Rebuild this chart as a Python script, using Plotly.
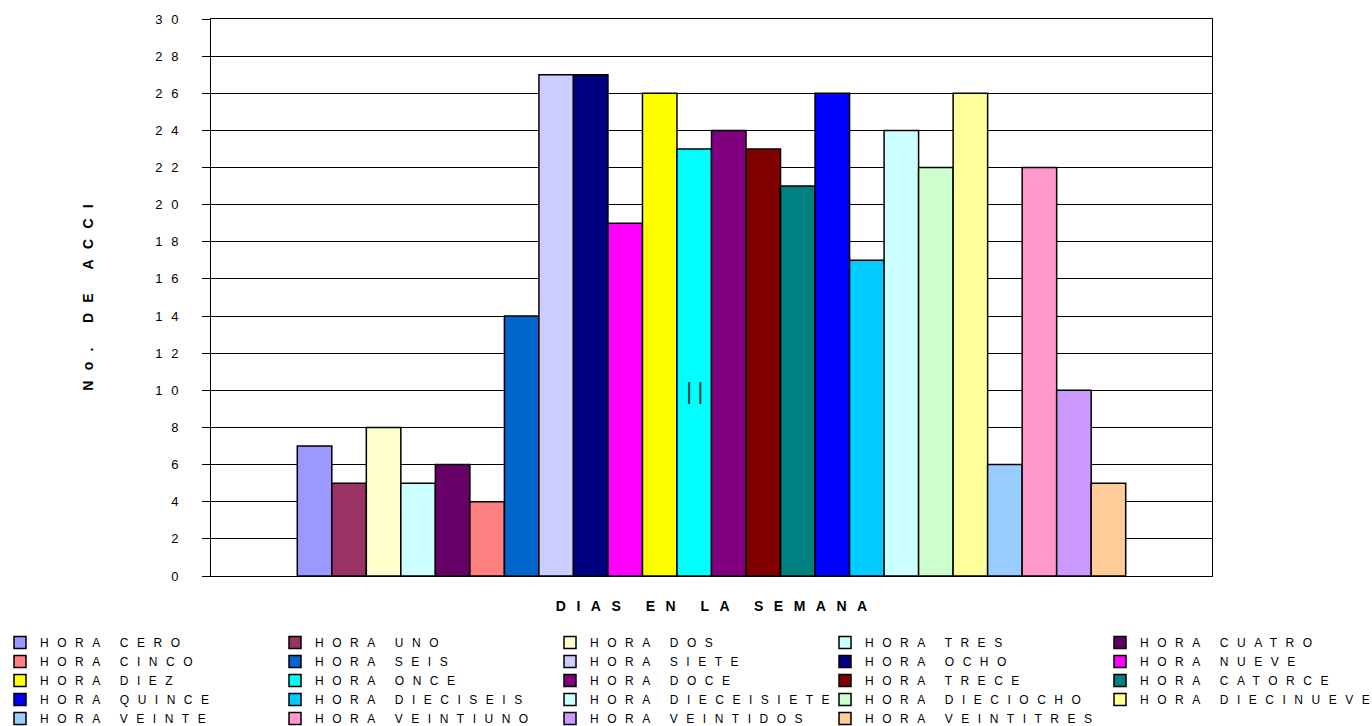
import plotly.graph_objects as go

# Hour-of-day series (one bar each) and accident counts
hours = ["CERO", "UNO", "DOS", "TRES", "CUATRO", "CINCO", "SEIS", "SIETE",
         "OCHO", "NUEVE", "DIEZ", "ONCE", "DOCE", "TRECE", "CATORCE", "QUINCE",
         "DIECISEIS", "DIECEISIETE", "DIECIOCHO", "DIECINUEVE", "VEINTE",
         "VEINTIUNO", "VEINTIDOS", "VEINTITRES"]
accidents = [7, 5, 8, 5, 6, 4, 14, 27, 27, 19, 26, 23, 24, 23, 21, 26, 17, 24,
             22, 26, 6, 22, 10, 5]
colors = ["#9999FF", "#993366", "#FFFFCC", "#CCFFFF", "#660066", "#FF8080",
          "#0066CC", "#CCCCFF", "#000080", "#FF00FF", "#FFFF00", "#00FFFF",
          "#800080", "#800000", "#008080", "#0000FF", "#00CCFF", "#CCFFFF",
          "#CCFFCC", "#FFFF99", "#99CCFF", "#FF99CC", "#CC99FF", "#FFCC99"]
y_ticks = [0, 2, 4, 6, 8, 10, 12, 14, 16, 18, 20, 22, 24, 26, 28, 30]
note_series = "ONCE"
note_text = "||"
note_value = 10

W, H = 1372, 726
FONT = "Liberation Sans"


def spaced(txt, px, bold=False):
    """Letter-spaced text; the last glyph is left outside the span so no
    trailing gap shifts the anchor."""
    head, tail = txt[:-1], txt[-1]
    out = f"<span style='letter-spacing:{px}px'>{head}</span>{tail}" if head else tail
    return f"<b>{out}</b>" if bold else out


fig = go.Figure()
for i, (h, v, c) in enumerate(zip(hours, accidents, colors)):
    fig.add_trace(go.Bar(
        x=[i], y=[v], width=1,
        name=spaced(f"HORA {h}", 8.5),
        marker=dict(color=c, line=dict(color="black", width=1.5)),
        hoverinfo="name+y",
    ))

fig.add_annotation(
    x=hours.index(note_series), y=note_value, xref="x", yref="y",
    text=spaced(note_text, 5), showarrow=False,
    font=dict(family=FONT, size=24, color="#104040"),
)

fig.update_layout(
    width=W, height=H,
    barmode="overlay",
    paper_bgcolor="white", plot_bgcolor="white",
    margin=dict(l=0, r=0, t=0, b=0, autoexpand=False),
    font=dict(family=FONT, size=12, color="black"),
    showlegend=True,
    legend=dict(
        orientation="h", x=0, xanchor="left", y=0.135, yanchor="top",
        entrywidth=230, entrywidthmode="pixels",
        traceorder="normal", bgcolor="rgba(0,0,0,0)",
        font=dict(family=FONT, size=12, color="black"),
    ),
    xaxis=dict(
        domain=[211 / W, 1212 / W], range=[-3, 26],
        showticklabels=False, ticks="", showgrid=False, zeroline=False,
        showline=True, linecolor="black", linewidth=1, mirror=True,
        title=dict(text=spaced("DIAS EN LA SEMANA", 10.5, bold=True),
                   font=dict(family=FONT, size=14, color="black"),
                   standoff=25),
    ),
    yaxis=dict(
        domain=[150 / H, 707 / H], range=[0, 30],
        tickmode="array", tickvals=y_ticks,
        ticktext=[spaced(str(t), 8.8) for t in y_ticks],
        ticks="outside", ticklen=8, tickcolor="black", tickwidth=1,
        ticklabelstandoff=21,
        tickfont=dict(family=FONT, size=13, color="black"),
        showgrid=True, gridcolor="black", gridwidth=1, zeroline=False,
        showline=True, linecolor="black", linewidth=1, mirror=True,
        title=dict(text=spaced("No. DE ACCI", 10.3, bold=True),
                   font=dict(family=FONT, size=14, color="black"),
                   standoff=58),
    ),
)

fig.write_html("out.html")
